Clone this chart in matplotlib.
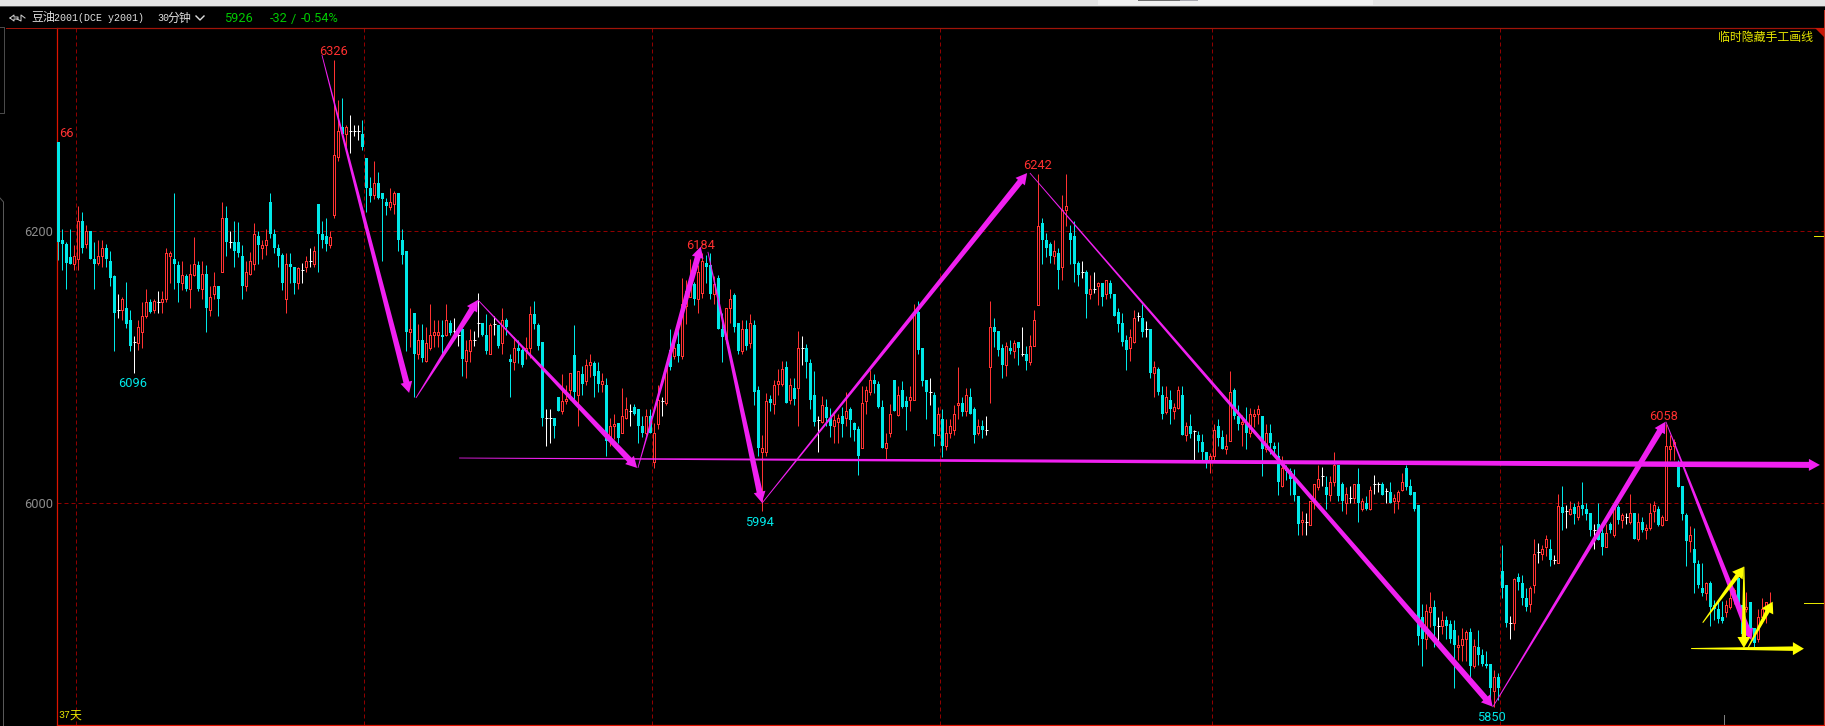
# 豆油2001 30分钟K线 (手工画线) 截图复刻
import matplotlib
matplotlib.use("Agg")
import matplotlib.pyplot as plt
import numpy as np
from matplotlib.lines import Line2D
from matplotlib.patches import Polygon
from matplotlib.transforms import IdentityTransform

W, H = 1825, 726

opens = [
    6266,6194,6191,6181,6176,6180,6208,6191,6200,6180,
    6177,6182,6188,6178,6167,6142,6142,6144,6135,6119,
    6118,6126,6138,6148,6142,6148,6148,6150,6182,6180,
    6175,6162,6167,6158,6168,6175,6158,6169,6142,6154,
    6160,6170,6210,6192,6192,6192,6182,6160,6169,6176,
    6197,6188,6190,6222,6198,6188,6183,6150,6176,6174,
    6162,6172,6174,6178,6176,6220,6198,6197,6190,6212,
    6255,6277,6272,6274,6274,6274,6272,6254,6232,6227,
    6236,6228,6222,6218,6220,6228,6194,6186,6126,6140,
    6110,6120,6105,6114,6124,6124,6124,6124,6133,6127,
    6124,6128,6105,6112,6120,6133,6133,6124,6110,6132,
    6131,6118,6135,6106,6104,6114,6113,6113,6114,6139,
    6131,6119,6063,6063,6063,6078,6068,6075,6083,6109,
    6080,6095,6090,6102,6103,6097,6088,6087,6046,6057,
    6059,6052,6063,6068,6071,6069,6057,6052,6064,6030,
    6058,6075,6074,6113,6108,6117,6108,6145,6152,6161,
    6150,6155,6177,6175,6154,6166,6128,6121,6144,6153,
    6133,6112,6128,6118,6131,6083,6038,6038,6077,6073,
    6088,6088,6100,6076,6085,6085,6114,6114,6103,6080,
    6061,6060,6071,6063,6057,6060,6064,6063,6069,6059,
    6055,6041,6075,6082,6091,6088,6071,6041,6052,6091,
    6065,6083,6075,6076,6076,6141,6114,6091,6082,6080,
    6050,6062,6042,6052,6054,6072,6074,6068,6078,6069,
    6052,6057,6054,6100,6130,6127,6114,6102,6114,6112,
    6119,6110,6110,6104,6116,6146,6206,6194,6191,6182,
    6184,6174,6216,6199,6197,6177,6170,6170,6154,6158,
    6160,6162,6154,6162,6154,6141,6133,6120,6114,6119,
    6138,6136,6128,6128,6096,6099,6080,6067,6076,6068,
    6070,6080,6050,6057,6053,6050,6045,6038,6031,6035,
    6057,6049,6040,6046,6083,6064,6058,6058,6052,6064,
    6066,6064,6040,6052,6042,6035,6013,6026,6024,6018,
    6005,5986,5986,5984,6002,6012,6020,6012,6006,6016,
    6028,6014,6000,6004,6004,6014,5996,6000,5996,6014,
    6014,6014,6009,6008,6002,6002,6010,6026,6013,6008,
    5999,5916,5900,5920,5924,5910,5910,5914,5911,5907,
    5894,5896,5900,5905,5880,5894,5888,5882,5882,5862,
    5872,5950,5940,5912,5912,5946,5941,5930,5926,5940,
    5964,5963,5968,5966,5958,5956,5997,5994,5992,5997,
    5990,5999,5996,5993,5980,5985,5978,5968,5985,5977,
    5997,5988,5990,5986,5993,5974,5986,5980,5982,5994,
    5996,5984,5988,6040,6042,6030,6013,5991,5972,5966,
    5955,5938,5934,5941,5925,5922,5916,5920,5924,5930,
    5945,5925,5922,5927,5908,5900,5916,5920,5922,
]
highs = [
    6266,6202,6192,6202,6190,6219,6214,6205,6200,6192,
    6194,6194,6191,6186,6168,6154,6152,6163,6142,6123,
    6135,6148,6158,6150,6150,6156,6156,6188,6186,6228,
    6178,6178,6169,6176,6196,6178,6178,6175,6160,6170,
    6160,6222,6219,6200,6208,6207,6190,6178,6185,6206,
    6200,6194,6202,6228,6202,6191,6184,6184,6184,6174,
    6174,6177,6182,6188,6189,6220,6208,6210,6200,6326,
    6297,6298,6278,6286,6278,6278,6282,6254,6240,6252,
    6244,6228,6225,6232,6230,6228,6202,6186,6144,6140,
    6132,6132,6130,6147,6135,6135,6135,6147,6135,6136,
    6130,6129,6120,6128,6127,6155,6133,6139,6133,6138,
    6131,6144,6136,6110,6122,6120,6114,6122,6145,6149,
    6133,6119,6069,6069,6063,6078,6095,6087,6096,6131,
    6097,6101,6106,6110,6105,6104,6096,6092,6063,6066,
    6059,6085,6078,6073,6073,6069,6064,6069,6069,6059,
    6087,6078,6100,6128,6125,6128,6166,6164,6180,6163,
    6175,6184,6183,6184,6167,6168,6140,6144,6158,6155,
    6133,6135,6135,6139,6135,6086,6050,6081,6080,6091,
    6099,6105,6105,6092,6092,6127,6123,6117,6106,6097,
    6064,6079,6077,6070,6066,6066,6071,6082,6071,6060,
    6057,6086,6086,6098,6095,6090,6076,6052,6073,6091,
    6086,6090,6079,6086,6147,6149,6114,6091,6092,6082,
    6071,6069,6062,6062,6072,6100,6078,6085,6085,6071,
    6062,6061,6064,6149,6136,6127,6117,6119,6120,6120,
    6119,6130,6116,6124,6142,6242,6210,6199,6192,6194,
    6188,6227,6242,6205,6208,6178,6178,6172,6168,6170,
    6163,6162,6164,6164,6154,6144,6140,6124,6128,6142,
    6141,6147,6134,6128,6105,6100,6086,6086,6083,6074,
    6086,6086,6060,6066,6054,6053,6051,6038,6037,6058,
    6062,6054,6051,6097,6085,6072,6065,6071,6070,6069,
    6072,6064,6058,6058,6045,6045,6035,6028,6026,6025,
    6005,5994,5993,6002,6014,6028,6027,6020,6020,6038,
    6028,6016,6012,6013,6014,6026,6004,6005,6013,6021,
    6016,6016,6011,6016,6007,6010,6022,6028,6018,6008,
    5999,5926,5926,5935,5929,5916,5921,5917,5914,5914,
    5903,5908,5907,5908,5900,5907,5893,5891,5882,5877,
    5875,5969,5940,5917,5945,5949,5947,5938,5939,5974,
    5971,5969,5977,5974,5962,6007,6013,5999,6002,6000,
    6002,6016,6000,5993,5985,6000,5984,5985,5986,6000,
    5999,5993,5993,6007,5993,5993,5990,5985,6000,6002,
    5998,5991,6058,6050,6047,6032,6013,5993,5983,5982,
    5958,5956,5942,5943,5929,5929,5928,5929,5936,5938,
    5946,5925,5935,5927,5908,5922,5930,5927,5935,
]
lows = [
    6179,6172,6158,6176,6172,6172,6184,6188,6180,6158,
    6175,6174,6174,6160,6112,6136,6135,6129,6112,6096,
    6113,6114,6136,6140,6140,6140,6140,6148,6162,6158,
    6148,6157,6156,6144,6167,6156,6150,6126,6138,6150,
    6138,6170,6182,6188,6174,6181,6150,6156,6168,6172,
    6176,6180,6183,6195,6184,6174,6157,6140,6162,6154,
    6158,6162,6170,6174,6174,6170,6188,6186,6188,6210,
    6252,6270,6262,6258,6270,6267,6260,6214,6222,6224,
    6224,6178,6212,6216,6213,6186,6176,6112,6115,6078,
    6106,6104,6104,6113,6115,6115,6110,6123,6124,6124,
    6116,6094,6092,6104,6116,6122,6123,6110,6110,6124,
    6114,6110,6124,6078,6098,6103,6100,6106,6107,6128,
    6113,6057,6042,6044,6048,6068,6066,6073,6076,6076,
    6057,6080,6087,6093,6078,6082,6082,6035,6042,6047,
    6044,6052,6062,6057,6065,6044,6049,6050,6052,6026,
    6055,6064,6072,6098,6106,6104,6106,6132,6152,6146,
    6140,6151,6162,6150,6147,6128,6104,6118,6133,6126,
    6110,6110,6113,6114,6072,6035,5994,6035,6068,6066,
    6080,6086,6074,6073,6072,6057,6102,6092,6069,6057,
    6038,6059,6057,6049,6044,6044,6049,6057,6049,6046,
    6021,6041,6066,6080,6081,6070,6041,6032,6049,6068,
    6064,6070,6054,6068,6076,6110,6086,6062,6072,6042,
    6050,6034,6039,6048,6050,6062,6064,6064,6066,6044,
    6050,6048,6050,6074,6115,6108,6092,6094,6110,6107,
    6102,6108,6098,6102,6116,6146,6176,6181,6177,6176,
    6158,6164,6204,6176,6163,6160,6166,6136,6150,6155,
    6146,6145,6150,6151,6138,6126,6116,6098,6105,6118,
    6134,6122,6122,6092,6078,6080,6062,6066,6058,6062,
    6069,6050,6046,6048,6031,6038,6032,6026,6022,6032,
    6042,6040,6036,6046,6062,6054,6042,6040,6049,6056,
    6058,6020,6038,6036,6036,6006,6012,6017,6006,6002,
    5977,5977,5977,5984,5996,6010,6013,5996,6002,6013,
    6002,5994,5992,6000,6000,5986,5994,5995,5995,6007,
    6008,6006,6000,6000,5993,5996,6009,6010,6006,5994,
    5896,5880,5893,5909,5894,5898,5904,5900,5897,5864,
    5885,5884,5884,5871,5879,5881,5880,5879,5855,5850,
    5855,5930,5909,5900,5907,5936,5925,5921,5920,5934,
    5956,5958,5961,5954,5955,5956,5980,5982,5991,5985,
    5988,5991,5988,5976,5966,5973,5962,5968,5978,5975,
    5985,5982,5985,5985,5974,5972,5979,5974,5980,5986,
    5983,5983,5988,6032,6032,6012,5988,5954,5964,5934,
    5938,5932,5929,5910,5914,5912,5912,5916,5922,5926,
    5923,5902,5920,5905,5894,5898,5912,5912,5922,
]
closes = [
    6192,6191,6177,6176,6182,6208,6188,6200,6180,6176,
    6182,6188,6180,6166,6140,6142,6150,6132,6116,6119,
    6130,6138,6148,6141,6149,6148,6150,6184,6184,6176,
    6162,6168,6158,6169,6176,6158,6169,6144,6152,6160,
    6150,6210,6192,6192,6186,6184,6160,6170,6178,6198,
    6190,6190,6194,6198,6188,6182,6162,6176,6174,6162,
    6173,6172,6178,6178,6186,6198,6194,6191,6196,6256,
    6274,6272,6277,6274,6274,6274,6262,6232,6226,6236,
    6225,6224,6219,6222,6228,6194,6183,6126,6128,6110,
    6120,6107,6118,6124,6126,6126,6122,6135,6125,6127,
    6124,6106,6113,6120,6120,6133,6124,6112,6131,6132,
    6116,6135,6130,6104,6114,6112,6102,6114,6139,6132,
    6116,6063,6063,6063,6057,6068,6075,6077,6096,6082,
    6097,6088,6102,6104,6094,6088,6090,6046,6057,6058,
    6048,6064,6069,6068,6066,6057,6052,6064,6052,6052,
    6076,6075,6100,6100,6114,6108,6147,6156,6163,6150,
    6170,6178,6174,6154,6161,6128,6122,6144,6150,6130,
    6112,6128,6116,6133,6082,6041,6041,6075,6074,6087,
    6090,6099,6074,6087,6077,6114,6114,6104,6076,6060,
    6061,6072,6063,6057,6061,6063,6058,6068,6061,6054,
    6035,6074,6083,6091,6088,6071,6041,6044,6066,6068,
    6080,6071,6071,6078,6141,6113,6090,6082,6082,6051,
    6066,6042,6052,6057,6066,6074,6067,6080,6066,6050,
    6057,6054,6054,6130,6126,6113,6102,6116,6112,6118,
    6114,6110,6105,6116,6135,6204,6194,6188,6182,6186,
    6172,6216,6219,6194,6176,6168,6170,6154,6158,6158,
    6162,6152,6164,6154,6138,6132,6119,6113,6122,6136,
    6138,6126,6128,6096,6100,6082,6066,6078,6069,6071,
    6083,6050,6057,6051,6053,6046,6038,6032,6035,6054,
    6048,6040,6042,6082,6064,6058,6060,6052,6066,6066,
    6069,6040,6052,6044,6040,6016,6026,6024,6018,6006,
    5985,5988,5986,6002,6014,6018,6020,6006,6016,6028,
    6005,6002,6007,6004,6014,6000,6002,5996,6010,6014,
    6014,6006,6009,6000,6004,6008,6016,6012,6006,5996,
    5902,5900,5921,5924,5910,5910,5914,5910,5900,5896,
    5896,5900,5905,5880,5895,5888,5882,5880,5864,5872,
    5864,5938,5912,5912,5944,5942,5930,5924,5938,5963,
    5964,5966,5974,5958,5958,5998,5993,5994,5996,5992,
    5998,5996,5992,5980,5980,5973,5968,5978,5980,5997,
    5988,5991,5990,5993,5974,5986,5980,5982,5993,5999,
    5984,5990,6042,6042,6045,6012,5992,5972,5977,5956,
    5940,5934,5941,5924,5922,5915,5913,5925,5930,5936,
    5924,5904,5924,5906,5897,5916,5922,5927,5926,
]

# 日期分割线(K线序号)和价格刻度
session_breaks = [4.5, 76.5, 148.5, 220.5, 288.5, 360.5]
price_ticks = [6000, 6200]
price_tick_labels = ["6000", "6200"]

# 高低点标注
peak_x = [68.7, 18.7, 160.6, 175.4, 244.7, 401.2, 358.4]
peak_price = [6332.6, 6088.3, 6189.6, 5986.2, 6248.4, 6063.5, 5842.4]
peak_text = ["6326", "6096", "6184", "5994", "6242", "6058", "5850"]
peak_color = ["#ff3030", "#00e8e8", "#ff3030", "#00e8e8", "#ff3030", "#ff3030", "#00e8e8"]

# 手工画线: 紫色
pink_x0 = [65.9, 89.4, 104.9, 144.9, 162.4, 175.9, 242.9, 358.6, 401.9, 100.2]
pink_p0 = [6329.9, 6077.5, 6149.6, 6026.0, 6185.0, 6000.0, 6243.0, 5850.0, 6060.0, 6033.3]
pink_x1 = [87.7, 104.9, 144.7, 160.6, 175.9, 242.2, 358.6, 401.8, 423.3, 440.4]
pink_p1 = [6081.2, 6149.6, 6026.0, 6188.8, 6000.4, 6243.0, 5850.3, 6060.0, 5899.4, 6028.2]

# 手工画线: 黄色
yellow_x0 = [411.1, 421.4, 422.4, 408.2]
yellow_p0 = [5912.1, 5953.3, 5893.5, 5893.1]
yellow_x1 = [421.4, 421.4, 428.6, 436.4]
yellow_p1 = [5953.3, 5893.5, 5927.6, 5893.0]

CYAN = "#00e8e8"
RED = "#ff3232"
PINK = "#f020f0"
YELLOW = "#ffff00"
CJK = ["Noto Sans CJK SC", "DejaVu Sans"]
MONO = "Liberation Mono"
NUM = "Roboto"

fig = plt.figure(figsize=(W / 100, H / 100), dpi=100, facecolor="black")
ax = fig.add_axes([57 / W, 1 - 724.5 / H, (1823.5 - 57) / W, (724.5 - 27.5) / H])
ax.set_facecolor("black")
ax.set_xlim(-0.33, 441.3)
ax.set_ylim(5837.2, 6350.1)
ax.set_xticks([])
ax.set_yticks(price_ticks)
ax.set_yticklabels(price_tick_labels, color="#8c8c8c", fontsize=9.2, family=NUM)
ax.tick_params(axis="y", length=0, pad=2.6)
ax.spines["left"].set_color("#dc1400")
ax.spines["bottom"].set_color("#dc1400")
ax.spines["top"].set_color("#a01408")
ax.spines["right"].set_color("#c03020")
for s in ax.spines.values():
    s.set_linewidth(0.9)

# 虚线网格
dash = (0, (4, 3))
for x in session_breaks:
    ax.axvline(x, color="#900000", lw=0.72, ls=dash, zorder=1)
for p in price_ticks:
    ax.axhline(p, color="#900000", lw=0.72, ls=dash, zorder=1)

# K线
idx = np.arange(len(opens))
o = np.array(opens)
h = np.array(highs)
l = np.array(lows)
c = np.array(closes)
up = c > o
down = c < o
flat = c == o

ax.vlines(idx[down], l[down], h[down], color=CYAN, lw=0.72, zorder=2)
ax.vlines(idx[up], l[up], h[up], color=RED, lw=0.72, zorder=2)
ax.vlines(idx[flat], l[flat], h[flat], color="white", lw=0.72, zorder=2)
ax.bar(idx[down], (o - c)[down], bottom=c[down], width=0.75, color=CYAN, lw=0, zorder=3, antialiased=False)
ax.bar(idx[up], (c - o)[up], bottom=o[up], width=0.5, facecolor="black", edgecolor=RED, lw=0.72, zorder=3, antialiased=False)
ax.hlines(c[flat], idx[flat] - 0.4, idx[flat] + 0.4, color="white", lw=0.72, zorder=3)


def draw_arrow(x0, p0, x1, p1, color, w0=0.8, w1=6.0, hl=11, hw=6):
    # 从细到粗的箭头,按屏幕像素算宽度
    a, b = ax.transData.transform([(x0, p0), (x1, p1)])
    u = (b - a) / np.hypot(*(b - a))
    n = np.array([-u[1], u[0]])
    neck = b - u * hl
    pts = [a + n * w0 / 2, neck + n * w1 / 2, neck + n * hw, b,
           neck - n * hw, neck - n * w1 / 2, a - n * w0 / 2]
    ax.add_artist(Polygon(pts, closed=True, transform=IdentityTransform(),
                          facecolor=color, edgecolor="none", zorder=4, clip_on=False))


for i in range(len(pink_x0)):
    draw_arrow(pink_x0[i], pink_p0[i], pink_x1[i], pink_p1[i], PINK)
for i in range(len(yellow_x0)):
    draw_arrow(yellow_x0[i], yellow_p0[i], yellow_x1[i], yellow_p1[i], YELLOW, w0=1.0, w1=4.5, hl=11, hw=6.5)

# 标注
for x, p, t, col in zip(peak_x, peak_price, peak_text, peak_color):
    ax.text(x, p, t, color=col, fontsize=9.2, family=NUM, ha="center", va="center", zorder=5)
ax.text(0.1, 6272.2, "66", color=RED, fontsize=9.2, family=NUM, ha="left", va="center", zorder=5)


# 窗口边框部分,坐标是截图像素
def px_line(xs, ys, color, lw=0.72):
    fig.add_artist(Line2D(xs, [H - y for y in ys], transform=IdentityTransform(),
                          color=color, lw=lw, zorder=10))


def px_fill(xs, ys, color):
    fig.add_artist(Polygon(list(zip(xs, [H - y for y in ys])), closed=True, transform=IdentityTransform(),
                           facecolor=color, edgecolor="none", zorder=10))


def px_text(x, y, s, color, size, ha="left", family=CJK):
    fig.text(x / W, 1 - y / H, s, color=color, fontsize=size, family=family, ha=ha, va="center", zorder=11)


px_fill([0, W, W, 0], [0, 0, 5.5, 5.5], "#e4e4e4")
px_fill([0, W, W, 0], [5.5, 5.5, 7, 7], "#555555")
px_fill([1098, 1373, 1373, 1098], [0, 0, 5, 5], "#f0f0f0")
px_fill([1138, 1180, 1180, 1138], [0, 0, 1.2, 1.2], "#6e6e6e")
px_fill([1180, 1198, 1198, 1180], [0, 0, 1.2, 1.2], "#a8a8b0")

px_line([6, 57], [27.5, 27.5], "#a01408")
px_line([0, 3.5, 3.5, 0], [27, 27, 113, 113], "#4a4a4a")
px_line([0, 3.5, 3.5], [198, 202, 726], "#585858")
px_line([1823.5, 1823.5], [10, 28], "#c03020")
px_fill([1815, 1823.5, 1823.5], [27.5, 27.5, 37], "#c81808")
px_line([1814, 1823], [236, 236], "#e6e600")
px_line([1804, 1823], [603, 603], "#e6e600")
px_line([1724, 1724], [715, 724], "#808080")

# 标题栏
px_line([10, 14, 14, 18, 18, 14, 14, 10], [18, 15, 17, 17, 19, 19, 21, 18], "#d0d0d0")
px_line([25, 21, 21, 17], [18, 15, 21, 19], "#d0d0d0")
px_text(31, 18, "豆油", "#e0e0e0", 8.6)
px_text(54, 18, "2001(DCE y2001)", "#e0e0e0", 7.2, family=MONO)
px_text(157, 18, "30", "#e0e0e0", 7.2, family=MONO)
px_text(168, 18, "分钟", "#e0e0e0", 8.6)
px_line([196, 200, 204], [16, 20, 16], "#e0e0e0", lw=1)
px_text(224, 19, "5926", "#00c800", 9.2, family=NUM)
px_text(270, 19, "-32", "#00c800", 9.2, family=NUM)
px_text(291, 19, "/", "#00c800", 9.2, family=NUM)
px_text(301, 19, "-0.54%", "#00c800", 9.2, family=NUM)
px_text(1813, 37, "临时隐藏手工画线", "#e6e600", 8.6, ha="right")
px_text(58, 715.5, "37", "#e6e600", 7.2, family=MONO)
px_text(70, 715.5, "天", "#e6e600", 8.6)

fig.savefig("out.png", dpi=100, facecolor="black")
